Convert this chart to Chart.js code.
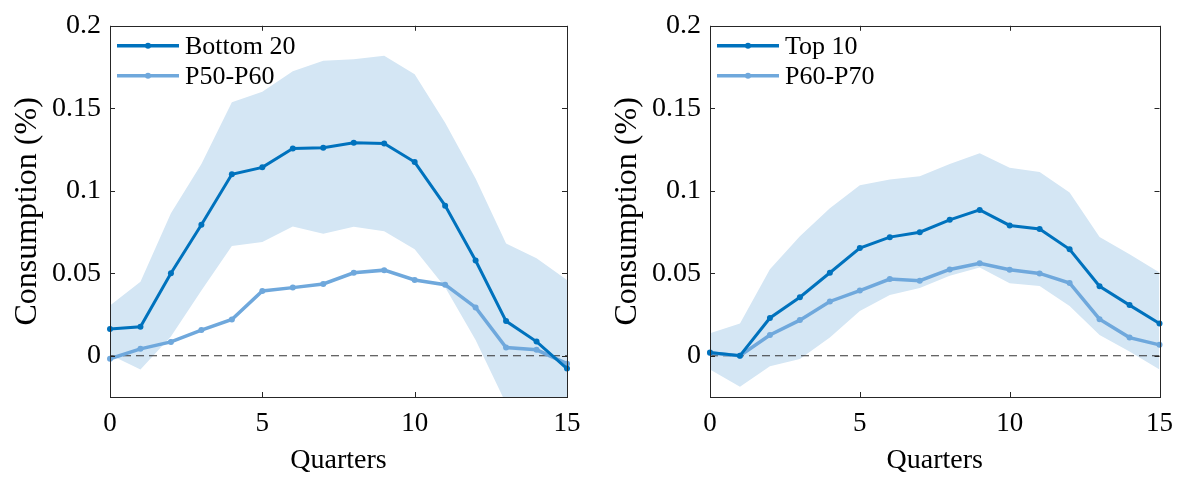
<!DOCTYPE html>
<html>
<head>
<meta charset="utf-8">
<script src="https://cdn.jsdelivr.net/npm/chart.js@4/dist/chart.umd.min.js"></script>
<style>
  html, body { margin: 0; padding: 0; background: #fff; overflow: hidden; }
  .panel { position: absolute; top: 0; height: 477px; }
  #left { left: 0; width: 592px; }
  #right { left: 600px; width: 584px; }
</style>
</head>
<body>
<div class="panel" id="left"><canvas id="chartLeft" width="592" height="477"></canvas></div>
<div class="panel" id="right"><canvas id="chartRight" width="584" height="477"></canvas></div>
<script>
// Quarters after the shock
const quarters = [0, 1, 2, 3, 4, 5, 6, 7, 8, 9, 10, 11, 12, 13, 14, 15];
const xTicks = [0, 5, 10, 15];
const yTicks = [0, 0.05, 0.1, 0.15, 0.2];
const yTickLabels = ['0', '0.05', '0.1', '0.15', '0.2'];

// Left panel: Bottom 20 vs P50-P60
const bottom20 = [0.0162, 0.0176, 0.050, 0.0794, 0.110, 0.1142, 0.1257, 0.1261, 0.1291, 0.1287, 0.1174, 0.091, 0.0577, 0.021, 0.0086, -0.0078];
const p50p60 = [-0.0018, 0.0042, 0.0084, 0.0156, 0.022, 0.0393, 0.0413, 0.0435, 0.0503, 0.0519, 0.0459, 0.0431, 0.0293, 0.005, 0.0036, -0.0048];
const bandLeftUpper = [0.0305, 0.0449, 0.0864, 0.1163, 0.1537, 0.160, 0.1725, 0.1788, 0.1798, 0.1818, 0.1707, 0.1413, 0.1074, 0.068, 0.0591, 0.0459];
const bandLeftLower = [0.0006, -0.0084, 0.0116, 0.0395, 0.0665, 0.069, 0.0784, 0.074, 0.0782, 0.0754, 0.0645, 0.0415, 0.0096, -0.029, -0.045, -0.06];

// Right panel: Top 10 vs P60-P70
const top10 = [0.002, 0.0, 0.0229, 0.0355, 0.0503, 0.0653, 0.0719, 0.0749, 0.0824, 0.0884, 0.079, 0.0768, 0.0645, 0.0421, 0.0307, 0.0196];
const p60p70 = [0.0016, 0.0, 0.0126, 0.0216, 0.0329, 0.0395, 0.0465, 0.0455, 0.0523, 0.0561, 0.0521, 0.0499, 0.0441, 0.0222, 0.011, 0.0066];
const bandRightUpper = [0.0136, 0.0196, 0.0525, 0.0725, 0.0894, 0.1034, 0.1069, 0.1088, 0.1163, 0.1228, 0.114, 0.1114, 0.099, 0.072, 0.0615, 0.0505];
const bandRightLower = [-0.0084, -0.0188, -0.0064, -0.002, 0.011, 0.0271, 0.0368, 0.0411, 0.0485, 0.0535, 0.0439, 0.0423, 0.0301, 0.0126, 0.0026, -0.0084];

const DARK = 'rgb(0, 114, 189)';
const LIGHT = 'rgb(111, 168, 220)';
const BAND = 'rgb(212, 230, 244)';
const AXIS = '#262626';
const FONT = "'Liberation Serif', 'Times New Roman', serif";

function toPoints(values) {
  return quarters.map((q, i) => ({ x: q, y: values[i] }));
}

// Box around the plot area with inward ticks on all four sides
const boxPlugin = {
  id: 'box',
  afterDatasetsDraw(chart) {
    const { ctx, chartArea: a, scales } = chart;
    ctx.save();
    ctx.strokeStyle = AXIS;
    ctx.lineWidth = 1;
    ctx.strokeRect(Math.round(a.left) + 0.5, Math.round(a.top) + 0.5,
      Math.round(a.right - a.left), Math.round(a.bottom - a.top));
    const len = 5;
    ctx.beginPath();
    xTicks.forEach(v => {
      const px = Math.round(scales.x.getPixelForValue(v)) + 0.5;
      ctx.moveTo(px, a.bottom); ctx.lineTo(px, a.bottom - len);
      ctx.moveTo(px, a.top); ctx.lineTo(px, a.top + len);
    });
    yTicks.forEach(v => {
      const py = Math.round(scales.y.getPixelForValue(v)) + 0.5;
      ctx.moveTo(a.left, py); ctx.lineTo(a.left + len, py);
      ctx.moveTo(a.right, py); ctx.lineTo(a.right - len, py);
    });
    ctx.stroke();
    ctx.restore();
  }
};

// Legend in the upper-left corner: line with a dot, then the name
const legendPlugin = {
  id: 'cornerLegend',
  afterDraw(chart, args, opts) {
    const { ctx, chartArea: a } = chart;
    ctx.save();
    opts.items.forEach((item, i) => {
      const y = a.top + 20 + i * 30;
      const x0 = a.left + 7, x1 = a.left + 69;
      ctx.strokeStyle = item.color;
      ctx.lineWidth = 3.5;
      ctx.beginPath();
      ctx.moveTo(x0, y); ctx.lineTo(x1, y);
      ctx.stroke();
      ctx.fillStyle = item.color;
      ctx.beginPath();
      ctx.arc((x0 + x1) / 2, y, 3, 0, Math.PI * 2);
      ctx.fill();
      ctx.fillStyle = '#000';
      ctx.font = '26px ' + FONT;
      ctx.textBaseline = 'middle';
      ctx.textAlign = 'left';
      ctx.fillText(item.label, a.left + 75, y + 1);
    });
    ctx.restore();
  }
};

function makeChart(canvasId, names, main, second, upper, lower, rightPad) {
  const ctx = document.getElementById(canvasId).getContext('2d');
  return new Chart(ctx, {
    type: 'line',
    data: {
      datasets: [
        {
          label: names[0], data: toPoints(main), borderColor: DARK, backgroundColor: DARK,
          borderWidth: 3, pointRadius: 3, pointBorderWidth: 0, tension: 0, clip: false
        },
        {
          label: names[1], data: toPoints(second), borderColor: LIGHT, backgroundColor: LIGHT,
          borderWidth: 3.5, pointRadius: 3, pointBorderWidth: 0, tension: 0, clip: false
        },
        {
          label: 'zero', data: toPoints(quarters.map(() => 0)), borderColor: '#333',
          borderWidth: 1.2, borderDash: [8, 5], pointRadius: 0
        },
        {
          label: 'upper', data: toPoints(upper), borderWidth: 0, pointRadius: 0,
          backgroundColor: BAND, fill: '+1', order: 10
        },
        {
          label: 'lower', data: toPoints(lower), borderWidth: 0, pointRadius: 0,
          backgroundColor: BAND, fill: false, order: 11
        }
      ]
    },
    options: {
      responsive: false,
      animation: false,
      events: [],
      layout: { padding: { top: 22, right: rightPad, left: 0, bottom: 0 } },
      scales: {
        x: {
          type: 'linear', min: 0, max: 15,
          afterBuildTicks: s => { s.ticks = xTicks.map(v => ({ value: v })); },
          afterFit: s => { s.height = 80; },
          grid: { display: false, drawTicks: false },
          border: { display: false },
          ticks: { color: '#000', padding: 11, font: { family: FONT, size: 27 } },
          title: {
            display: true, text: 'Quarters', color: '#000',
            padding: { top: 0, bottom: 0 }, font: { family: FONT, size: 28 }
          }
        },
        y: {
          type: 'linear', min: -0.025, max: 0.2,
          afterBuildTicks: s => { s.ticks = yTicks.map(v => ({ value: v })); },
          afterFit: s => { s.width = 110; },
          grid: { display: false, drawTicks: false },
          border: { display: false },
          ticks: {
            color: '#000', padding: 9, font: { family: FONT, size: 28 },
            callback: v => yTickLabels[yTicks.indexOf(v)]
          },
          title: {
            display: true, text: 'Consumption (%)', color: '#000',
            padding: { top: 8, bottom: 0 }, font: { family: FONT, size: 32 }
          }
        }
      },
      plugins: {
        legend: { display: false },
        tooltip: { enabled: false },
        cornerLegend: { items: [{ label: names[0], color: DARK }, { label: names[1], color: LIGHT }] }
      }
    },
    plugins: [boxPlugin, legendPlugin]
  });
}

makeChart('chartLeft', ['Bottom 20', 'P50-P60'], bottom20, p50p60, bandLeftUpper, bandLeftLower, 25);
makeChart('chartRight', ['Top 10', 'P60-P70'], top10, p60p70, bandRightUpper, bandRightLower, 17);
</script>
</body>
</html>
